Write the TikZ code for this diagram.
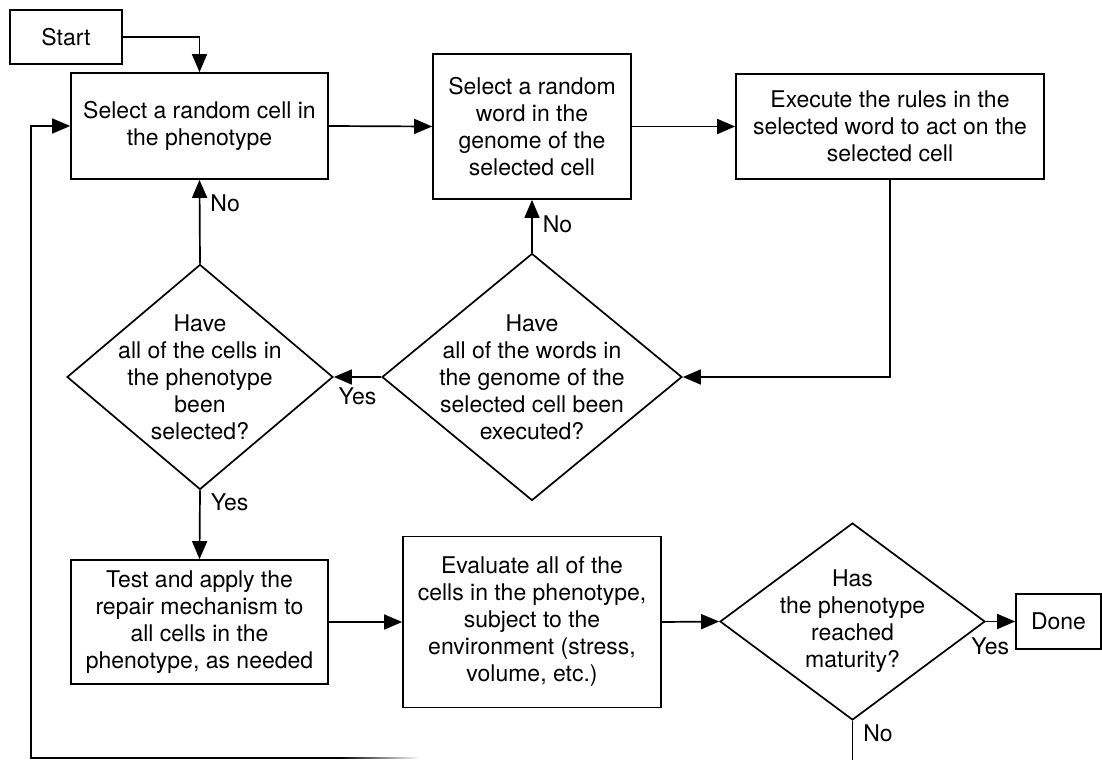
\documentclass[tikz,border=0pt]{standalone}
\usepackage{fontspec}
\setmainfont{TeX Gyre Heros}
\usetikzlibrary{shapes.geometric,arrows.meta}
\begin{document}
\begin{tikzpicture}[x=1pt,y=-1pt,
  txt/.style={font=\fontsize{23}{27}\selectfont},
  box/.style={draw, line width=1.7pt, align=center, inner sep=0pt, txt},
  decision/.style={draw, diamond, line width=1.7pt, inner sep=0pt},
  qtext/.style={align=center, txt},
  arr/.style={line width=1.7pt, -{Triangle[length=18pt,width=15pt]}},
  wire/.style={line width=1.7pt},
  tag/.style={inner sep=2pt, txt}]
  \path[use as bounding box] (0,0) rectangle (1102,760);

  % process boxes
  \node[box, minimum width=112pt, minimum height=54pt] (start) at (66,37) {Start};
  \node[box, minimum width=257pt, minimum height=106pt] (sel) at (199.5,126)
    {Select a random cell in\\the phenotype};
  \node[box, minimum width=198pt, minimum height=145pt] (word) at (532,126.5)
    {Select a random\\word in the\\genome of the\\selected cell};
  \node[box, minimum width=308pt, minimum height=105pt] (exec) at (890,126.5)
    {Execute the rules in the\\selected word to act on the\\selected cell};
  \node[box, minimum width=257pt, minimum height=124pt] (repair) at (199.5,622)
    {Test and apply the\\repair mechanism to\\all cells in the\\phenotype, as needed};
  \node[box, minimum width=258pt, minimum height=171pt] (eval) at (532,622)
    {Evaluate all of the\\cells in the phenotype,\\subject to the\\environment (stress,\\volume, etc.)};
  \node[box, minimum width=85pt, minimum height=55pt] (done) at (1058.5,621.5) {Done};

  % decisions
  \node[decision, minimum width=266pt, minimum height=225pt,
        label={[qtext]center:{Have\\all of the cells in\\the phenotype\\been\\selected?}}]
        (cells) at (200,377) {};
  \node[decision, minimum width=300pt, minimum height=247pt,
        label={[qtext]center:{Have\\all of the words in\\the genome of the\\selected cell been\\executed?}}]
        (words) at (532,377) {};
  \node[decision, minimum width=265pt, minimum height=197pt,
        label={[qtext]center:{Has\\the phenotype\\reached\\maturity?}}]
        (mature) at (852.5,621.5) {};

  % loose ends of the return loop
  \coordinate (matureOut) at (852.5,760);
  \coordinate (loopFade) at (340,758);
  \coordinate (loopCorner) at (31,758);

  % connectors
  \draw[arr] (start.east) -| (sel.north);
  \draw[arr] (sel.east) -- (word.west);
  \draw[arr] (word.east) -- (exec.west);
  \draw[arr] (exec.south) |- (words.east);
  \draw[arr] (words.west) -- (cells.east) node[tag, midway, below=8pt] {Yes};
  \draw[arr] (cells.north) -- (sel.south) node[tag, pos=0.72, right=8pt] {No};
  \draw[arr] (words.north) -- (word.south) node[tag, pos=0.54, right=8pt] {No};
  \draw[arr] (cells.south) -- (repair.north) node[tag, pos=0.17, right=8pt] {Yes};
  \draw[arr] (repair.east) -- (eval.west);
  \draw[arr] (eval.east) -- (mature.west);
  \draw[arr] (mature.east) -- (done.west) node[tag, pos=0.15, below=13pt] {Yes};
  \draw[wire] (mature.south) -- (matureOut) node[tag, pos=0.33, right=8pt] {No};
  \draw[arr] (loopFade) -- (loopCorner) |- (sel.west);
  \shade[left color=black, right color=white]
    (340,757.15) rectangle (420,758.85);
\end{tikzpicture}
\end{document}
